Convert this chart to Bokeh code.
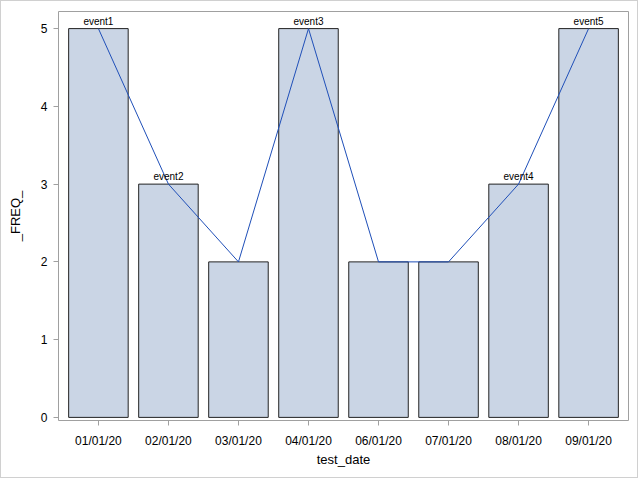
from bokeh.plotting import figure
from bokeh.models import ColumnDataSource, FactorRange, Range1d, FixedTicker
from bokeh.embed import file_html
from bokeh.resources import INLINE
from bokeh.core.properties import value

dates = ["01/01/20", "02/01/20", "03/01/20", "04/01/20", "06/01/20", "07/01/20", "08/01/20", "09/01/20"]
freq = [5, 3, 2, 5, 2, 2, 3, 5]
event_dates = ["01/01/20", "02/01/20", "04/01/20", "08/01/20", "09/01/20"]
event_freq = [5, 3, 5, 3, 5]
event_labels = ["event1", "event2", "event3", "event4", "event5"]

src = ColumnDataSource(dict(x=dates, y=freq))
esrc = ColumnDataSource(dict(x=event_dates, y=event_freq, t=event_labels))

FONT = "Liberation Sans"

p = figure(width=638, height=478, x_range=FactorRange(*dates, range_padding=0.07, range_padding_units="absolute"),
           y_range=Range1d(-0.04, 5.22), output_backend="svg", toolbar_location=None,
           min_border_left=57, min_border_right=11, min_border_top=10, min_border_bottom=59)
p.styles = {"border": "1px solid #d0d0d0"}

p.vbar(x="x", top="y", bottom=0, width=0.85, source=src, fill_color="#cad5e5",
       line_color="#222222", line_width=1)
p.line(x="x", y="y", source=src, line_color="#1f4fb8", line_width=1)
p.text(x="x", y="y", text="t", source=esrc, text_font=value(FONT), text_font_size="10px",
       text_align="center", text_baseline="bottom", y_offset=-2, text_color="black")

p.grid.visible = False
p.outline_line_color = "#a0a0a0"
p.outline_line_width = 1

for ax in (p.xaxis[0], p.yaxis[0]):
    ax.axis_line_color = None
    ax.major_tick_line_color = "#a0a0a0"
    ax.minor_tick_line_color = None
    ax.major_tick_in = 0
    ax.major_tick_out = 5
    ax.major_label_text_font = FONT
    ax.major_label_text_font_size = "12px"
    ax.major_label_text_color = "black"
    ax.axis_label_text_font = FONT
    ax.axis_label_text_font_size = "13px"
    ax.axis_label_text_font_style = "normal"
    ax.axis_label_text_color = "black"

p.xaxis.axis_label = "test_date"
p.yaxis.axis_label = "_FREQ_"
p.yaxis.ticker = FixedTicker(ticks=[0, 1, 2, 3, 4, 5])
p.xaxis.major_label_standoff = 8
p.yaxis.major_label_standoff = 6
p.xaxis.axis_label_standoff = 1
p.yaxis.axis_label_standoff = 15

open("out.html", "w").write(file_html(p, INLINE))
